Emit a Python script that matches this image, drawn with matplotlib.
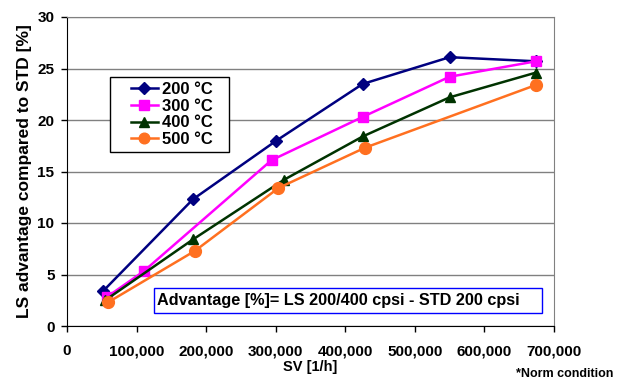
import matplotlib
matplotlib.use("Agg")
import matplotlib.pyplot as plt
from matplotlib.patches import Rectangle
from matplotlib.ticker import FuncFormatter

plt.rcParams["font.family"] = ["Liberation Sans", "DejaVu Sans"]
plt.rcParams["font.weight"] = "bold"

# data
sv_200 = [52000, 181000, 301000, 425000, 550000, 674000]
adv_200 = [3.4, 12.3, 18.0, 23.5, 26.1, 25.7]
sv_300 = [57000, 110000, 294000, 425000, 550000, 674000]
adv_300 = [2.8, 5.3, 16.1, 20.3, 24.2, 25.7]
sv_400 = [55000, 181000, 312000, 425000, 550000, 674000]
adv_400 = [2.5, 8.4, 14.2, 18.4, 22.2, 24.6]
sv_500 = [59000, 184000, 304000, 428000, 674000]
adv_500 = [2.3, 7.3, 13.4, 17.3, 23.4]
labels = ["200 °C", "300 °C", "400 °C", "500 °C"]

W, H = 629, 381
L, R, T, B = 67, 554, 17, 326
fig = plt.figure(figsize=(W / 100, H / 100), dpi=100)
ax = fig.add_axes([L / W, 1 - B / H, (R - L) / W, (B - T) / H])


def ax_x(px):
    return (px - L) / (R - L)


def ax_y(py):
    return (B - py) / (B - T)


ax.plot(sv_200, adv_200, color="#000080", marker="D", ms=6.5, lw=1.8, label=labels[0])
ax.plot(sv_300, adv_300, color="#FF00FF", marker="s", ms=7.5, lw=1.8, label=labels[1])
ax.plot(sv_400, adv_400, color="#003300", marker="^", ms=7.5, lw=1.8, label=labels[2])
ax.plot(sv_500, adv_500, color="#FF7020", marker="o", ms=8.5, lw=1.8, label=labels[3])

ax.set_xlim(0, 700000)
ax.set_ylim(0, 30)
ax.set_xticks(range(0, 700001, 100000))
ax.set_yticks(range(0, 31, 5))
ax.xaxis.set_major_formatter(FuncFormatter(lambda v, p: f"{int(v):,}"))
ax.grid(axis="y", color="#808080", lw=1)
ax.set_axisbelow(True)
for s in ["top", "right"]:
    ax.spines[s].set_color("#808080")
ax.tick_params(direction="out", length=4, labelsize=11, width=1)
ax.tick_params(axis="x", pad=9)
ax.tick_params(axis="y", pad=5)
for t in ax.get_xticklabels() + ax.get_yticklabels():
    t.set_fontweight("bold")

ax.set_xlabel("SV [1/h]", fontsize=10.5, fontweight="bold")
ax.xaxis.set_label_coords(0.5, ax_y(360))
ax.set_ylabel("LS advantage compared to STD [%]", fontsize=12.5, fontweight="bold")
ax.yaxis.set_label_coords(ax_x(32), 0.5)

# legend frame drawn by hand (wide padding like the original)
ax.add_patch(Rectangle((ax_x(110), ax_y(152)), ax_x(229) - ax_x(110), ax_y(77) - ax_y(152),
                       transform=ax.transAxes, fc="white", ec="black", lw=1, zorder=3))
leg = ax.legend(loc="center left", bbox_to_anchor=(ax_x(131), ax_y(114.5)), fontsize=12,
                frameon=False, handlelength=1.6, handletextpad=0.25, labelspacing=0.1,
                borderpad=0, borderaxespad=0, markerscale=0.9)
leg.set_zorder(4)
for t in leg.get_texts():
    t.set_fontweight("bold")

ax.add_patch(Rectangle((ax_x(154), ax_y(313)), ax_x(542) - ax_x(154), ax_y(288) - ax_y(313),
                       transform=ax.transAxes, fc="white", ec="#0000FF", lw=1, zorder=3))
ax.text(ax_x(157), ax_y(300), "Advantage [%]= LS 200/400 cpsi - STD 200 cpsi",
        transform=ax.transAxes, fontsize=11.7, fontweight="bold", va="center", ha="left",
        zorder=4)

fig.text(613 / W, 1 - 374 / H, "*Norm condition", fontsize=9, fontweight="bold",
         ha="right", va="center")

fig.savefig("out.png", dpi=100)
